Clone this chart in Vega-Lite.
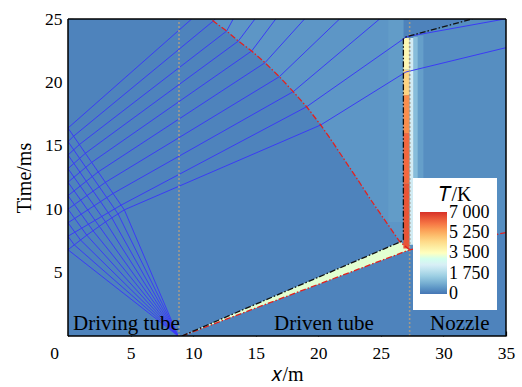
{
  "$schema": "https://vega.github.io/schema/vega-lite/v6.json",
  "width": 438,
  "height": 317,
  "autosize": {"type": "none"},
  "padding": {"left": 68, "top": 19, "right": 16, "bottom": 51},
  "config": {
    "view": {"stroke": null},
    "font": "Liberation Serif",
    "axis": {
      "domain": false, "grid": false, "ticks": true, "tickSize": -5, "tickColor": "black", "tickWidth": 1.2,
      "labelFont": "Liberation Serif", "labelFontSize": 17.5, "labelColor": "black",
      "titleFont": "Liberation Serif", "titleFontSize": 20, "titleFontWeight": "normal", "titleColor": "black",
      "labelPadding": 13, "zindex": 1, "labelFlush": false, "labelOverlap": false
    },
    "axisX": {"titlePadding": 3},
    "axisY": {"titlePadding": 10, "labelPadding": 11},
    "legend": {
      "fillColor": "white", "padding": 7, "gradientLength": 82, "gradientThickness": 27,
      "titleFont": "Liberation Serif", "titleFontSize": 20, "titleFontWeight": "normal", "titleColor": "black",
      "labelFont": "Liberation Serif", "labelFontSize": 18, "labelColor": "black", "labelOffset": 8,
      "titlePadding": 7, "titleAnchor": "middle", "gradientStrokeWidth": 0, "labelOverlap": false
    }
  },
  "datasets": {
    "bg": [{"x": 0, "x2": 35, "t": 0, "t2": 25, "T": 220}],
    "light": [
      {"id": "L", "t": 7.41, "x": 26.53, "x2": 26.8, "T": 520},
      {"id": "L", "t": 10.73, "x": 24.13, "x2": 26.8, "T": 520},
      {"id": "L", "t": 12.3, "x": 23.17, "x2": 26.8, "T": 520},
      {"id": "L", "t": 15.59, "x": 20.94, "x2": 26.8, "T": 520},
      {"id": "L", "t": 16.64, "x": 20.19, "x2": 26.8, "T": 520},
      {"id": "L", "t": 18.08, "x": 19.07, "x2": 26.8, "T": 520},
      {"id": "L", "t": 19.27, "x": 18.0, "x2": 26.8, "T": 520},
      {"id": "L", "t": 20.45, "x": 16.89, "x2": 26.8, "T": 520},
      {"id": "L", "t": 21.55, "x": 15.74, "x2": 26.8, "T": 520},
      {"id": "L", "t": 22.48, "x": 14.68, "x2": 26.8, "T": 520},
      {"id": "L", "t": 23.26, "x": 13.61, "x2": 26.8, "T": 520},
      {"id": "L", "t": 24.05, "x": 12.68, "x2": 26.8, "T": 520},
      {"id": "L", "t": 24.84, "x": 11.61, "x2": 26.8, "T": 520},
      {"id": "L", "t": 25, "x": 11.45, "x2": 26.8, "T": 520}
    ],
    "nozzle": [
      {"id": "N", "x": 27.3, "t": 6.8, "t2": 23.6, "T": 380},
      {"id": "N", "x": 32.3, "t": 7.67, "t2": 25, "T": 380},
      {"id": "N", "x": 35, "t": 8.15, "t2": 25, "T": 380}
    ],
    "wedge": [
      {"id": "W", "t": 0, "x": 9.1, "x2": 9.1, "T": 3300},
      {"id": "W", "t": 6.8, "x": 25.08, "x2": 27.3, "T": 3300},
      {"id": "W", "t": 7.41, "x": 26.53, "x2": 26.6, "T": 3300}
    ],
    "rects": [
      {"x": 25.6, "x2": 26.8, "t": 9.0, "t2": 25, "T": 600},
      {"x": 26.8, "x2": 27.3, "t": 6.9, "t2": 12, "T": 6500},
      {"x": 26.8, "x2": 27.3, "t": 12, "t2": 16, "T": 6200},
      {"x": 26.8, "x2": 27.3, "t": 16, "t2": 19, "T": 5700},
      {"x": 26.8, "x2": 27.3, "t": 19, "t2": 21, "T": 4600},
      {"x": 26.8, "x2": 27.3, "t": 21, "t2": 23.5, "T": 3700},
      {"x": 27.95, "x2": 28.4, "t": 7.6, "t2": 23.7, "T": 650},
      {"x": 27.6, "x2": 27.95, "t": 7.4, "t2": 23.6, "T": 1200},
      {"x": 27.3, "x2": 27.6, "t": 7.2, "t2": 23.5, "T": 2400}
    ],
    "fan": [
      {"id": "i1", "o": 0, "x": 8.8, "t": 0}, {"id": "i1", "o": 1, "x": 0, "t": 6.8},
      {"id": "i2", "o": 0, "x": 8.8, "t": 0}, {"id": "i2", "o": 1, "x": 0.5, "t": 7.19}, {"id": "i2", "o": 2, "x": 0, "t": 7.87},
      {"id": "i3", "o": 0, "x": 8.8, "t": 0}, {"id": "i3", "o": 1, "x": 1.0, "t": 7.57}, {"id": "i3", "o": 2, "x": 0, "t": 8.93},
      {"id": "i4", "o": 0, "x": 8.8, "t": 0}, {"id": "i4", "o": 1, "x": 1.5, "t": 7.95}, {"id": "i4", "o": 2, "x": 0, "t": 10.0},
      {"id": "i5", "o": 0, "x": 8.8, "t": 0}, {"id": "i5", "o": 1, "x": 2.0, "t": 8.3}, {"id": "i5", "o": 2, "x": 0, "t": 11.07},
      {"id": "i6", "o": 0, "x": 8.8, "t": 0}, {"id": "i6", "o": 1, "x": 2.5, "t": 8.65}, {"id": "i6", "o": 2, "x": 0, "t": 12.13},
      {"id": "i7", "o": 0, "x": 8.8, "t": 0}, {"id": "i7", "o": 1, "x": 3.0, "t": 9.0}, {"id": "i7", "o": 2, "x": 0, "t": 13.2},
      {"id": "i8", "o": 0, "x": 8.8, "t": 0}, {"id": "i8", "o": 1, "x": 3.5, "t": 9.32}, {"id": "i8", "o": 2, "x": 0, "t": 14.27},
      {"id": "i9", "o": 0, "x": 8.8, "t": 0}, {"id": "i9", "o": 1, "x": 4.0, "t": 9.63}, {"id": "i9", "o": 2, "x": 0, "t": 15.33},
      {"id": "i10", "o": 0, "x": 8.8, "t": 0}, {"id": "i10", "o": 1, "x": 4.5, "t": 9.95}, {"id": "i10", "o": 2, "x": 0, "t": 16.4},
      {"id": "r1", "o": 0, "x": 0, "t": 6.8}, {"id": "r1", "o": 1, "x": 1.5, "t": 7.95}, {"id": "r1", "o": 2, "x": 3.0, "t": 9.0}, {"id": "r1", "o": 3, "x": 4.5, "t": 9.95}, {"id": "r1", "o": 4, "x": 20.19, "t": 16.64}, {"id": "r1", "o": 5, "x": 27.0, "t": 20.82}, {"id": "r1", "o": 6, "x": 35, "t": 22.74},
      {"id": "r2", "o": 0, "x": 0, "t": 7.87}, {"id": "r2", "o": 1, "x": 4.24, "t": 10.32}, {"id": "r2", "o": 2, "x": 19.07, "t": 18.08}, {"id": "r2", "o": 3, "x": 27.05, "t": 23.6}, {"id": "r2", "o": 4, "x": 34.9, "t": 25},
      {"id": "r3", "o": 0, "x": 0, "t": 8.93}, {"id": "r3", "o": 1, "x": 3.6, "t": 11.24}, {"id": "r3", "o": 2, "x": 18.0, "t": 19.27}, {"id": "r3", "o": 3, "x": 24.9, "t": 25},
      {"id": "r4", "o": 0, "x": 0, "t": 10.0}, {"id": "r4", "o": 1, "x": 2.99, "t": 12.12}, {"id": "r4", "o": 2, "x": 16.89, "t": 20.45}, {"id": "r4", "o": 3, "x": 21.7, "t": 25},
      {"id": "r5", "o": 0, "x": 0, "t": 11.07}, {"id": "r5", "o": 1, "x": 2.41, "t": 12.94}, {"id": "r5", "o": 2, "x": 15.74, "t": 21.55}, {"id": "r5", "o": 3, "x": 18.9, "t": 25},
      {"id": "r6", "o": 0, "x": 0, "t": 12.13}, {"id": "r6", "o": 1, "x": 1.89, "t": 13.69}, {"id": "r6", "o": 2, "x": 14.68, "t": 22.48}, {"id": "r6", "o": 3, "x": 16.6, "t": 25},
      {"id": "r7", "o": 0, "x": 0, "t": 13.2}, {"id": "r7", "o": 1, "x": 1.39, "t": 14.41}, {"id": "r7", "o": 2, "x": 13.61, "t": 23.26}, {"id": "r7", "o": 3, "x": 14.94, "t": 25},
      {"id": "r8", "o": 0, "x": 0, "t": 14.27}, {"id": "r8", "o": 1, "x": 0.91, "t": 15.1}, {"id": "r8", "o": 2, "x": 12.68, "t": 24.05}, {"id": "r8", "o": 3, "x": 13.2, "t": 25},
      {"id": "r9", "o": 0, "x": 0, "t": 15.33}, {"id": "r9", "o": 1, "x": 0.45, "t": 15.76}, {"id": "r9", "o": 2, "x": 11.61, "t": 24.84}, {"id": "r9", "o": 3, "x": 11.75, "t": 25},
      {"id": "r10", "o": 0, "x": 0, "t": 16.4}, {"id": "r10", "o": 1, "x": 9.88, "t": 25}
    ],
    "dia": [
      {"x": 8.87, "t": 0, "t2": 25},
      {"x": 27.3, "t": 0, "t2": 25}
    ],
    "shock": [
      {"id": "s1", "o": 0, "x": 9.1, "t": 0}, {"id": "s1", "o": 1, "x": 27.3, "t": 6.8},
      {"id": "s2", "o": 0, "x": 27.3, "t": 6.8}, {"id": "s2", "o": 1, "x": 26.53, "t": 7.41}, {"id": "s2", "o": 2, "x": 24.2, "t": 10.73},
      {"id": "s2", "o": 3, "x": 23.17, "t": 12.3}, {"id": "s2", "o": 4, "x": 20.94, "t": 15.59}, {"id": "s2", "o": 5, "x": 20.19, "t": 16.64},
      {"id": "s2", "o": 6, "x": 19.07, "t": 18.08}, {"id": "s2", "o": 7, "x": 18.0, "t": 19.27}, {"id": "s2", "o": 8, "x": 16.89, "t": 20.45},
      {"id": "s2", "o": 9, "x": 15.74, "t": 21.55}, {"id": "s2", "o": 10, "x": 14.68, "t": 22.48}, {"id": "s2", "o": 11, "x": 13.61, "t": 23.26},
      {"id": "s2", "o": 12, "x": 12.68, "t": 24.05}, {"id": "s2", "o": 13, "x": 11.61, "t": 24.84}, {"id": "s2", "o": 14, "x": 11.45, "t": 25},
      {"id": "s3", "o": 0, "x": 27.3, "t": 6.8}, {"id": "s3", "o": 1, "x": 35, "t": 8.15}
    ],
    "contact": [
      {"id": "c", "o": 0, "x": 9.1, "t": 0}, {"id": "c", "o": 1, "x": 26.53, "t": 7.41}, {"id": "c", "o": 2, "x": 26.8, "t": 7.6},
      {"id": "c", "o": 3, "x": 26.8, "t": 23.45}, {"id": "c", "o": 4, "x": 27.05, "t": 23.6}, {"id": "c", "o": 5, "x": 32.3, "t": 25}
    ],
    "frame": [
      {"x": 0, "t": 0, "x2": 35, "t2": 0},
      {"x": 35, "t": 0, "x2": 35, "t2": 25},
      {"x": 35, "t": 25, "x2": 0, "t2": 25},
      {"x": 0, "t": 25, "x2": 0, "t2": 0}
    ],
    "labels": [
      {"x": 0.4, "t": 0.45, "label": "Driving tube"},
      {"x": 16.46, "t": 0.45, "label": "Driven tube"},
      {"x": 28.93, "t": 0.45, "label": "Nozzle"}
    ]
  },
  "encoding": {
    "x": {
      "field": "x", "type": "quantitative",
      "scale": {"domain": [0, 35], "nice": false, "zero": false},
      "axis": {"title": "𝑥/m", "values": [0, 5, 10, 15, 20, 25, 30, 35],
               "labelOffset": {"condition": {"test": "datum.value == 0", "value": -14}, "value": 0}}
    },
    "y": {
      "field": "t", "type": "quantitative",
      "scale": {"domain": [0, 25], "nice": false, "zero": false},
      "axis": {"title": "Time/ms", "values": [5, 10, 15, 20, 25]}
    }
  },
  "layer": [
    {
      "data": {"name": "bg"},
      "mark": {"type": "rect"},
      "encoding": {
        "x2": {"field": "x2"}, "y2": {"field": "t2"},
        "color": {
          "field": "T", "type": "quantitative",
          "scale": {"domain": [0, 875, 1750, 2625, 3500, 4375, 5250, 6125, 7000],
                    "range": ["#4575b4", "#74add1", "#abd9e9", "#e0f3f8", "#ffffbf", "#fee090", "#fdae61", "#f46d43", "#d73027"]},
          "legend": {"title": "𝑇/K", "values": [40, 1750, 3500, 5250, 6900], "direction": "vertical",
                     "orient": "none", "legendX": 345, "legendY": 159,
                     "labelExpr": "datum.value < 100 ? '0' : datum.value > 6800 ? '7 000' : replace(format(datum.value, ','), ',', ' ')"}
        }
      }
    },
    {
      "data": {"name": "light"},
      "mark": {"type": "area", "orient": "horizontal"},
      "encoding": {
        "x2": {"field": "x2"}, "detail": {"field": "id"},
        "color": {"field": "T", "type": "quantitative"}
      }
    },
    {
      "data": {"name": "nozzle"},
      "mark": {"type": "area", "orient": "vertical"},
      "encoding": {
        "y2": {"field": "t2"}, "detail": {"field": "id"},
        "color": {"field": "T", "type": "quantitative"}
      }
    },
    {
      "data": {"name": "wedge"},
      "mark": {"type": "area", "orient": "horizontal"},
      "encoding": {
        "x2": {"field": "x2"}, "detail": {"field": "id"},
        "color": {"field": "T", "type": "quantitative"}
      }
    },
    {
      "data": {"name": "rects"},
      "mark": {"type": "rect"},
      "encoding": {
        "x2": {"field": "x2"}, "y2": {"field": "t2"},
        "color": {"field": "T", "type": "quantitative"}
      }
    },
    {
      "data": {"name": "fan"},
      "mark": {"type": "line", "color": "#3b3bf5", "strokeWidth": 1, "clip": true},
      "encoding": {"detail": {"field": "id"}, "order": {"field": "o"}}
    },
    {
      "data": {"name": "dia"},
      "mark": {"type": "rule", "color": "#a39a8a", "strokeWidth": 1.6, "strokeDash": [2, 2]},
      "encoding": {"y2": {"field": "t2"}}
    },
    {
      "data": {"name": "shock"},
      "mark": {"type": "line", "color": "#e3211e", "strokeWidth": 1.3, "strokeDash": [6, 2, 1.5, 2], "clip": true},
      "encoding": {"detail": {"field": "id"}, "order": {"field": "o"}}
    },
    {
      "data": {"name": "contact"},
      "mark": {"type": "line", "color": "#111111", "strokeWidth": 1.3, "strokeDash": [6, 2, 1.5, 2], "clip": true},
      "encoding": {"detail": {"field": "id"}, "order": {"field": "o"}}
    },
    {
      "data": {"name": "frame"},
      "mark": {"type": "rule", "color": "black", "strokeWidth": 1.5},
      "encoding": {"x2": {"field": "x2"}, "y2": {"field": "t2"}}
    },
    {
      "data": {"name": "labels"},
      "mark": {"type": "text", "align": "left", "baseline": "alphabetic", "fontSize": 21, "color": "black", "font": "Liberation Serif"},
      "encoding": {"text": {"field": "label"}}
    }
  ]
}
